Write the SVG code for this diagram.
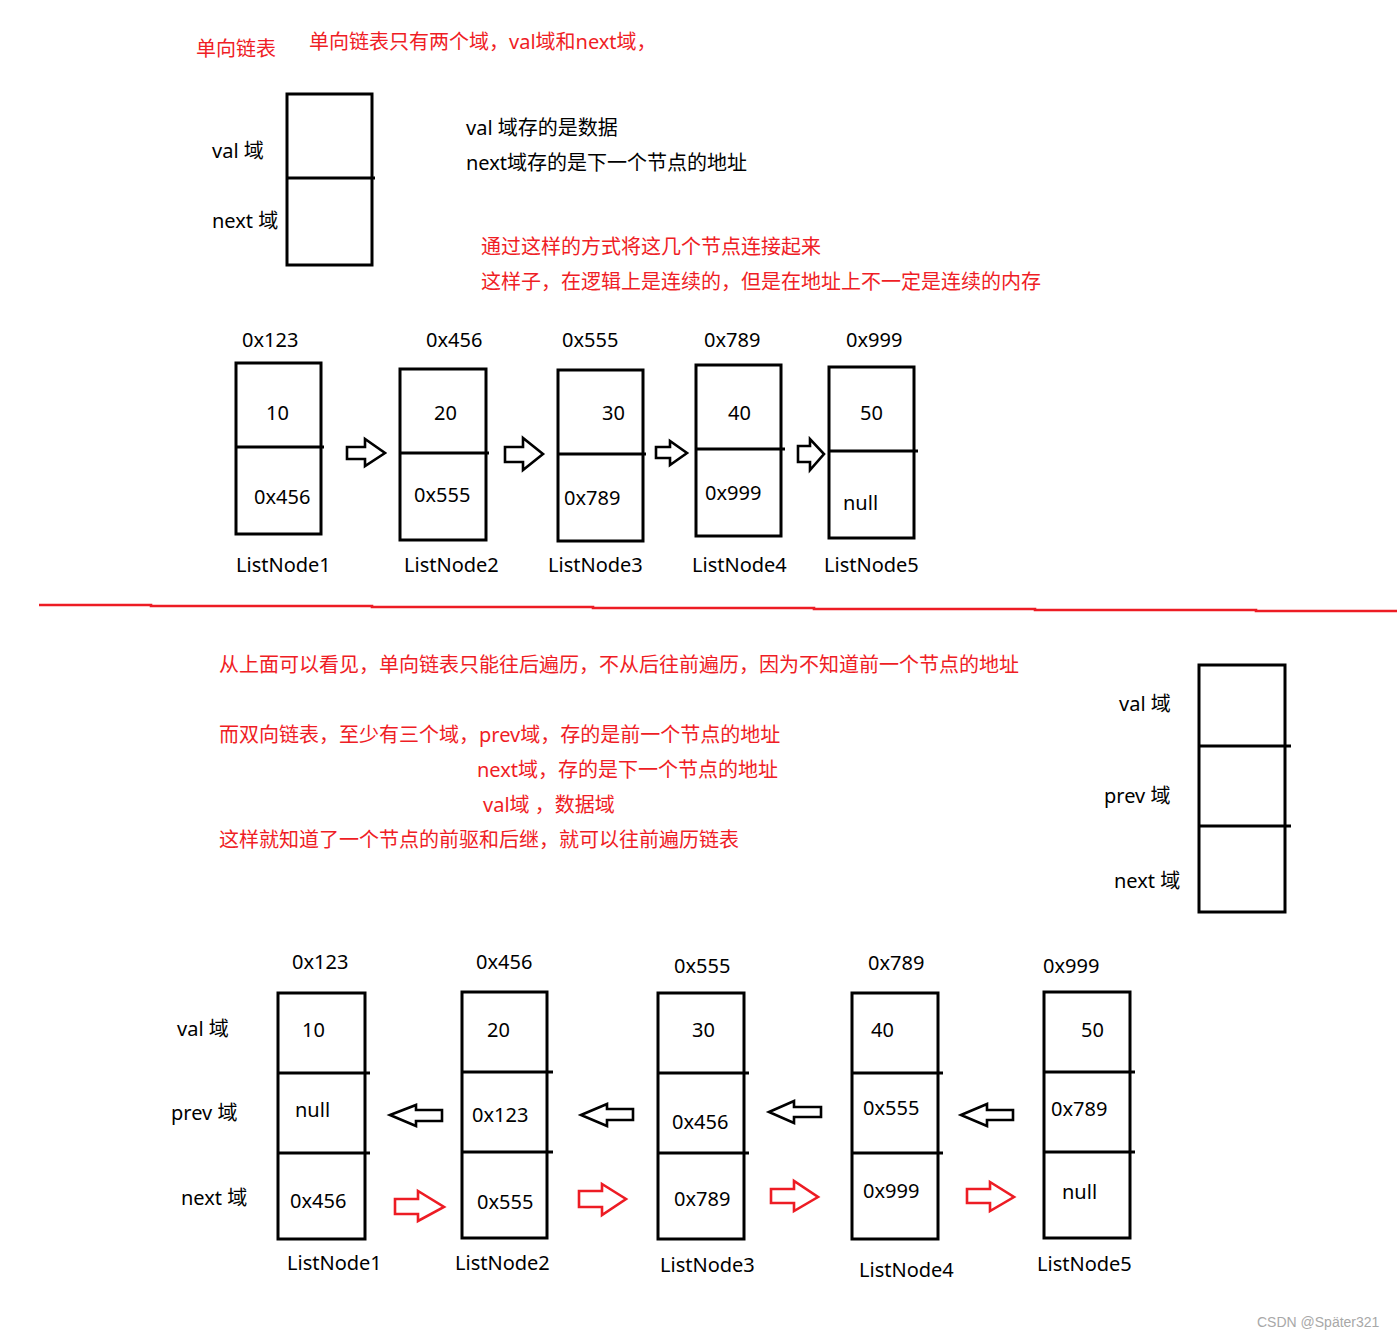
<svg xmlns="http://www.w3.org/2000/svg" width="1397" height="1339" viewBox="0 0 1397 1339">
<style>
text{font-family:"Noto Sans","Noto Sans CJK SC",sans-serif;font-size:20px;fill:#000}
.r{fill:#ef1d25}
.box{fill:none;stroke:#000;stroke-width:3}
.div{stroke:#000;stroke-width:3}
.ab{fill:#fff;stroke:#000;stroke-width:2.6;stroke-linejoin:miter}
.ar{fill:#fff;stroke:#ed1c24;stroke-width:2.6;stroke-linejoin:miter}
.wm{font-family:"Liberation Sans",sans-serif;font-size:14px;fill:#a8a8a8}
</style>
<rect width="1397" height="1339" fill="#fff"/>

<g id="notes">
<text class="r" x="196" y="56">单向链表</text>
<text class="r" x="309" y="49">单向链表只有两个域，val域和next域，</text>
<text x="466" y="135">val 域存的是数据</text>
<text x="466" y="170">next域存的是下一个节点的地址</text>
<text class="r" x="481" y="254">通过这样的方式将这几个节点连接起来</text>
<text class="r" x="481" y="289">这样子，在逻辑上是连续的，但是在地址上不一定是连续的内存</text>
<text class="r" x="219" y="672">从上面可以看见，单向链表只能往后遍历，不从后往前遍历，因为不知道前一个节点的地址</text>
<text class="r" x="219" y="742">而双向链表，至少有三个域，prev域，存的是前一个节点的地址</text>
<text class="r" x="477" y="777">next域，存的是下一个节点的地址</text>
<text class="r" x="483" y="812">val域 ，数据域</text>
<text class="r" x="219" y="847">这样就知道了一个节点的前驱和后继，就可以往前遍历链表</text>
</g>

<g id="legend-single">
<rect class="box" x="287" y="94" width="85" height="171"/>
<line class="div" x1="287" y1="178" x2="375" y2="178"/>
<text x="212" y="158">val 域</text>
<text x="212" y="228">next 域</text>
</g>

<g id="legend-double">
<rect class="box" x="1199" y="665" width="86" height="247"/>
<line class="div" x1="1199" y1="746" x2="1291" y2="746"/>
<line class="div" x1="1199" y1="826" x2="1291" y2="826"/>
<text x="1119" y="711">val 域</text>
<text x="1104" y="803">prev 域</text>
<text x="1114" y="888">next 域</text>
<text x="177" y="1036">val 域</text>
<text x="171" y="1120">prev 域</text>
<text x="181" y="1205">next 域</text>
</g>

<g id="s-node1">
<text x="242" y="347">0x123</text>
<rect class="box" x="236" y="363" width="85" height="171"/>
<line class="div" x1="236" y1="447" x2="324" y2="447"/>
<text x="266" y="420">10</text>
<text x="254" y="504">0x456</text>
<text x="236" y="572">ListNode1</text>
</g>
<g id="s-node2">
<text x="426" y="347">0x456</text>
<rect class="box" x="400" y="369" width="86" height="171"/>
<line class="div" x1="400" y1="453" x2="489" y2="453"/>
<text x="434" y="420">20</text>
<text x="414" y="502">0x555</text>
<text x="404" y="572">ListNode2</text>
</g>
<g id="s-node3">
<text x="562" y="347">0x555</text>
<rect class="box" x="558" y="370" width="85" height="171"/>
<line class="div" x1="558" y1="454" x2="646" y2="454"/>
<text x="602" y="420">30</text>
<text x="564" y="505">0x789</text>
<text x="548" y="572">ListNode3</text>
</g>
<g id="s-node4">
<text x="704" y="347">0x789</text>
<rect class="box" x="696" y="365" width="85" height="171"/>
<line class="div" x1="696" y1="449" x2="785" y2="449"/>
<text x="728" y="420">40</text>
<text x="705" y="500">0x999</text>
<text x="692" y="572">ListNode4</text>
</g>
<g id="s-node5">
<text x="846" y="347">0x999</text>
<rect class="box" x="829" y="367" width="85" height="171"/>
<line class="div" x1="829" y1="451" x2="918" y2="451"/>
<text x="860" y="420">50</text>
<text x="843" y="510">null</text>
<text x="824" y="572">ListNode5</text>
</g>

<g id="d-node1">
<text x="292" y="969">0x123</text>
<rect class="box" x="278" y="993" width="87" height="246"/>
<line class="div" x1="278" y1="1073" x2="370" y2="1073"/>
<line class="div" x1="278" y1="1153" x2="370" y2="1153"/>
<text x="302" y="1037">10</text>
<text x="295" y="1117">null</text>
<text x="290" y="1208">0x456</text>
<text x="287" y="1270">ListNode1</text>
</g>
<g id="d-node2">
<text x="476" y="969">0x456</text>
<rect class="box" x="462" y="992" width="85" height="246"/>
<line class="div" x1="462" y1="1072" x2="553" y2="1072"/>
<line class="div" x1="462" y1="1152" x2="553" y2="1152"/>
<text x="487" y="1037">20</text>
<text x="472" y="1122">0x123</text>
<text x="477" y="1209">0x555</text>
<text x="455" y="1270">ListNode2</text>
</g>
<g id="d-node3">
<text x="674" y="973">0x555</text>
<rect class="box" x="658" y="993" width="86" height="246"/>
<line class="div" x1="658" y1="1073" x2="749" y2="1073"/>
<line class="div" x1="658" y1="1153" x2="749" y2="1153"/>
<text x="692" y="1037">30</text>
<text x="672" y="1129">0x456</text>
<text x="674" y="1206">0x789</text>
<text x="660" y="1272">ListNode3</text>
</g>
<g id="d-node4">
<text x="868" y="970">0x789</text>
<rect class="box" x="852" y="993" width="86" height="246"/>
<line class="div" x1="852" y1="1073" x2="943" y2="1073"/>
<line class="div" x1="852" y1="1153" x2="943" y2="1153"/>
<text x="871" y="1037">40</text>
<text x="863" y="1115">0x555</text>
<text x="863" y="1198">0x999</text>
<text x="859" y="1277">ListNode4</text>
</g>
<g id="d-node5">
<text x="1043" y="973">0x999</text>
<rect class="box" x="1044" y="992" width="86" height="246"/>
<line class="div" x1="1044" y1="1072" x2="1135" y2="1072"/>
<line class="div" x1="1044" y1="1152" x2="1135" y2="1152"/>
<text x="1081" y="1037">50</text>
<text x="1051" y="1116">0x789</text>
<text x="1062" y="1199">null</text>
<text x="1037" y="1271">ListNode5</text>
</g>

<g id="connectors">
<polygon class="ab" points="347,447 365,447 365,439 385,453 365,466 365,459 347,459"/>
<polygon class="ab" points="505,447 523,447 523,438 543,454 523,470 523,462 505,462"/>
<polygon class="ab" points="656,447 670,447 670,441 687,453 670,465 670,458 656,458"/>
<polygon class="ab" points="798,446 810,446 810,439 824,454 810,470 810,462 798,462"/>

<polygon class="ab" points="390,1115 416,1105 416,1110 442,1110 442,1121 416,1121 416,1126"/>
<polygon class="ab" points="581,1115 607,1104 607,1109 633,1109 633,1120 607,1120 607,1126"/>
<polygon class="ab" points="769,1112 794,1101 794,1107 821,1107 821,1117 794,1117 794,1123"/>
<polygon class="ab" points="961,1115 987,1104 987,1110 1013,1110 1013,1120 987,1120 987,1126"/>

<polygon class="ar" points="395,1199 418,1199 418,1191 444,1207 418,1221 418,1214 395,1214"/>
<polygon class="ar" points="579,1191 602,1191 602,1184 626,1199 602,1215 602,1207 579,1207"/>
<polygon class="ar" points="771,1189 794,1189 794,1181 818,1197 794,1211 794,1203 771,1203"/>
<polygon class="ar" points="967,1189 990,1189 990,1182 1014,1197 990,1211 990,1203 967,1203"/>
</g>

<g id="separator">
<polyline fill="none" stroke="#ed1c24" stroke-width="2.6" points="39,605 151,605 151,606 372,606 372,607 593,607 593,608 814,608 814,609 1035,609 1035,610 1256,610 1256,611 1397,611"/>
</g>

<text class="wm" x="1257" y="1327">CSDN @Später321</text>
</svg>
